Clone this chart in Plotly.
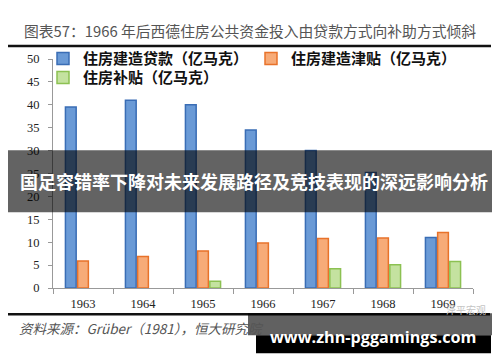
import plotly.graph_objects as go

years = ["1963", "1964", "1965", "1966", "1967", "1968", "1969"]
loans = [39.5, 41.0, 40.0, 34.5, 30.0, 25.2, 11.0]
subsidies_build = [5.9, 6.9, 8.1, 9.8, 10.8, 10.9, 12.1]
housing_allow = [None, None, 1.5, None, 4.2, 5.1, 5.8]
names = ["住房建造贷款（亿马克）", "住房建造津贴（亿马克）", "住房补贴（亿马克）"]
y_ticks = [0, 5, 10, 15, 20, 25, 30, 35, 40, 45, 50]

# page body has an 8px margin: figure pixel = window pixel - 8
OFF = 8
W_FIG, H_FIG = 500 - OFF, 362 - OFF
L, R, T, B = 53, 473, 58.7, 287.7  # plot area in window pixels
PW, PH = R - L, B - T


def px_x(x):
    return (x - L) / PW


def px_y(y):
    return (B - y) / PH


fig = go.Figure()
fig.add_trace(go.Bar(x=years, y=loans, name=names[0], legend="legend",
                     marker=dict(color="#6a9ad6", line=dict(color="#3a6db5", width=1.5))))
fig.add_trace(go.Bar(x=years, y=subsidies_build, name=names[1], legend="legend",
                     marker=dict(color="#f7ab78", line=dict(color="#e8722a", width=1.5))))
fig.add_trace(go.Bar(x=years, y=housing_allow, name=names[2], legend="legend2",
                     marker=dict(color="#c4e2a0", line=dict(color="#8cc152", width=1.5))))

tick_font = dict(family="Liberation Serif", size=12.5, color="#222")
leg_font = dict(family="Noto Sans CJK SC", size=15, color="#111", weight="bold")

fig.update_layout(
    width=W_FIG, height=H_FIG,
    margin=dict(l=L - OFF, r=W_FIG - (R - OFF), t=T - OFF, b=H_FIG - (B - OFF), autoexpand=False),
    paper_bgcolor="white", plot_bgcolor="white",
    barmode="group", bargap=0.39, bargroupgap=0.12,
    showlegend=True,
    legend=dict(orientation="h", x=px_x(43), xanchor="left", y=px_y(58.5), yanchor="middle",
                font=leg_font, entrywidth=163, entrywidthmode="pixels",
                bgcolor="rgba(0,0,0,0)", borderwidth=0, itemclick=False),
    legend2=dict(orientation="h", x=px_x(43), xanchor="left", y=px_y(77.5), yanchor="middle",
                 font=leg_font, bgcolor="rgba(0,0,0,0)", borderwidth=0),
    xaxis=dict(type="category", showline=True, linecolor="#999", linewidth=1,
               ticks="outside", tickson="boundaries", ticklen=5, tickcolor="#999",
               tickfont=tick_font, showgrid=False, ticklabelstandoff=4),
    yaxis=dict(range=[0, 50], tickvals=y_ticks, showline=True, linecolor="#999", linewidth=1,
               ticks="outside", ticklen=4, tickcolor="#999", tickfont=tick_font,
               showgrid=False, zeroline=False, ticklabelstandoff=6),
)

shapes = [
    dict(type="line", xref="paper", yref="paper", x0=px_x(7), x1=px_x(491), y0=px_y(45.7), y1=px_y(45.7),
         line=dict(color="#111", width=2.5)),
    dict(type="line", xref="paper", yref="paper", x0=px_x(7), x1=px_x(490), y0=px_y(314), y1=px_y(314),
         line=dict(color="#111", width=2.5)),
    dict(type="rect", xref="paper", yref="paper", x0=px_x(3), x1=px_x(500), y0=px_y(212), y1=px_y(150),
         fillcolor="rgba(0,0,0,0.61)", line=dict(width=0), layer="above"),
    dict(type="rect", xref="paper", yref="paper", x0=px_x(248), x1=px_x(497), y0=px_y(335), y1=px_y(313),
         fillcolor="rgba(0,0,0,0.62)", line=dict(width=0), layer="above"),
    dict(type="rect", xref="paper", yref="paper", x0=px_x(256), x1=px_x(491), y0=px_y(353), y1=px_y(335),
         fillcolor="#000", line=dict(width=0), layer="above"),
]
fig.update_layout(shapes=shapes)

annotations = [
    dict(text="图表57：1966 年后西德住房公共资金投入由贷款方式向补助方式倾斜", x=px_x(250), y=px_y(30),
         xref="paper", yref="paper", showarrow=False, xanchor="center", yanchor="middle",
         font=dict(family="Noto Sans CJK SC", size=14.8, color="#555")),
    dict(text="资料来源：Grüber（1981），恒大研究院", x=px_x(17), y=px_y(328),
         xref="paper", yref="paper", showarrow=False, xanchor="left", yanchor="middle",
         font=dict(family="Noto Sans CJK SC", size=13.5, color="#555", style="italic")),
    dict(text="泽平宏观", x=px_x(466), y=px_y(309),
         xref="paper", yref="paper", showarrow=False, xanchor="center", yanchor="middle",
         font=dict(family="Noto Sans CJK SC", size=10, color="#c4c4c4")),
    dict(text="国足容错率下降对未来发展路径及竞技表现的深远影响分析", x=px_x(254), y=px_y(181),
         xref="paper", yref="paper", showarrow=False, xanchor="center", yanchor="middle",
         font=dict(family="Noto Sans CJK SC", size=18, color="white", weight="bold")),
    dict(text="www.zhn-pggamings.com", x=px_x(372.5), y=px_y(337),
         xref="paper", yref="paper", showarrow=False, xanchor="center", yanchor="middle",
         font=dict(family="Open Sans", size=16.2, color="white", weight="bold")),
]
fig.update_layout(annotations=annotations)

fig.write_html("out.html")
